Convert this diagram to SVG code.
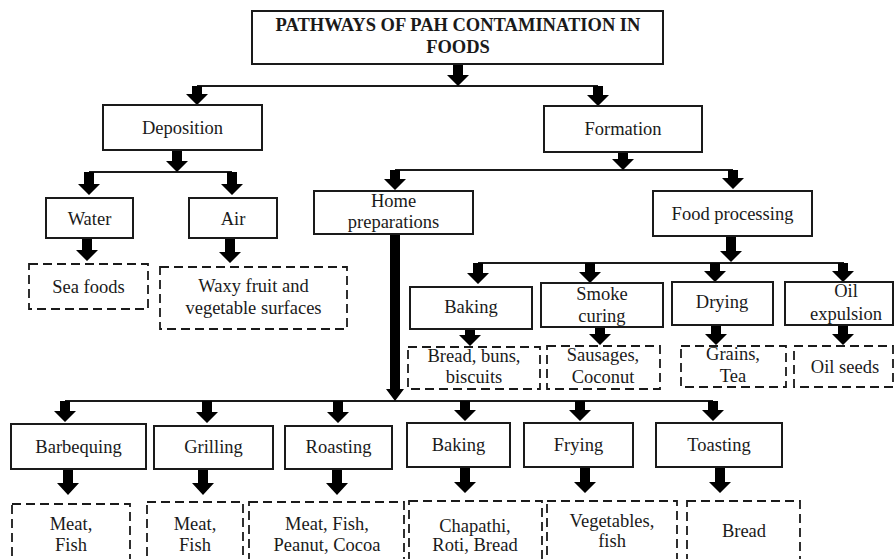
<svg xmlns="http://www.w3.org/2000/svg" width="896" height="559" viewBox="0 0 896 559" font-family="Liberation Serif, DejaVu Serif, serif">
<style>
.b{fill:#fff;stroke:#1a1a1a;stroke-width:2}
.d{fill:#fff;stroke:#1a1a1a;stroke-width:1.8;stroke-dasharray:9 5}
text{font-size:18.5px;fill:#1a1a1a;text-anchor:middle}
.t{font-weight:bold;font-size:18.5px}
.ln{stroke:#1a1a1a;stroke-width:2.2;fill:none}
.ar{fill:#000}
</style>
<rect width="896" height="559" fill="#fff"/>
<g id="connectors">
<path class="ln" d="M197,86H598M89,172H232M395,170H733M478,263H844M65,401H713"/>
<path class="ar" d="M453,64H463V75H469L458,86L447,75H453Z"/>
<path class="ar" d="M192,86H202V94H208L197,105L186,94H192Z"/>
<path class="ar" d="M593,86H603V95H609L598,106L587,95H593Z"/>
<path class="ar" d="M172,150H182V161H188L177,172L166,161H172Z"/>
<path class="ar" d="M84,172H94V184H100L89,195L78,184H84Z"/>
<path class="ar" d="M227,172H237V184H243L232,195L221,184H227Z"/>
<path class="ar" d="M82,238H92V250H98L87,261L76,250H82Z"/>
<path class="ar" d="M225,238H235V252H241L230,263L219,252H225Z"/>
<path class="ar" d="M618,152H628V159H634L623,170L612,159H618Z"/>
<path class="ar" d="M390,170H400V179H406L395,190L384,179H390Z"/>
<path class="ar" d="M728,170H738V178H744L733,189L722,178H728Z"/>
<path class="ar" d="M726,236H736V251H742L731,262L720,251H726Z"/>
<path class="ar" d="M473,263H483V273H489L478,284L467,273H473Z"/>
<path class="ar" d="M585,263H595V272H601L590,283L579,272H585Z"/>
<path class="ar" d="M710,263H720V271H726L715,282L704,271H710Z"/>
<path class="ar" d="M838,263H848V271H854L843,282L832,271H838Z"/>
<path class="ar" d="M465,329H475V335H481L470,346L459,335H465Z"/>
<path class="ar" d="M595,327H605V334H611L600,345L589,334H595Z"/>
<path class="ar" d="M711,325H721V334H727L716,345L705,334H711Z"/>
<path class="ar" d="M838,325H848V334H854L843,345L832,334H838Z"/>
<path class="ar" d="M390,234H400V389H404L395,401L386,389H390Z"/>
<path class="ar" d="M60,401H70V411H76L65,422L54,411H60Z"/>
<path class="ar" d="M202,401H212V412H218L207,423L196,412H202Z"/>
<path class="ar" d="M333,401H343V412H349L338,423L327,412H333Z"/>
<path class="ar" d="M460,401H470V410H476L465,421L454,410H460Z"/>
<path class="ar" d="M575,401H585V410H591L580,421L569,410H575Z"/>
<path class="ar" d="M708,401H718V410H724L713,421L702,410H708Z"/>
<path class="ar" d="M63,469H73V483H79L68,495L57,483H63Z"/>
<path class="ar" d="M198,469H208V483H214L203,495L192,483H198Z"/>
<path class="ar" d="M332,469H342V483H348L337,495L326,483H332Z"/>
<path class="ar" d="M460,467H470V482H476L465,493L454,482H460Z"/>
<path class="ar" d="M580,467H590V482H596L585,493L574,482H580Z"/>
<path class="ar" d="M715,467H725V482H731L720,493L709,482H715Z"/>
</g>
<g id="title"><rect class="b" x="252" y="11" width="411" height="53"/><text class="t" x="458" y="31">PATHWAYS OF PAH CONTAMINATION IN</text><text class="t" x="458" y="53">FOODS</text></g>
<g id="deposition"><rect class="b" x="103" y="105" width="159" height="45"/><text x="182.5" y="134">Deposition</text></g>
<g id="formation"><rect class="b" x="544" y="106" width="158" height="46"/><text x="623" y="135">Formation</text></g>
<g id="water"><rect class="b" x="46" y="198" width="87" height="40"/><text x="89.5" y="225">Water</text></g>
<g id="air"><rect class="b" x="189" y="198" width="88" height="40"/><text x="233" y="225">Air</text></g>
<g id="seafoods"><rect class="d" x="29" y="264" width="119" height="45"/><text x="88.5" y="293">Sea foods</text></g>
<g id="waxy"><rect class="d" x="160" y="267" width="187" height="62"/><text x="253.5" y="292">Waxy fruit and</text><text x="253.5" y="314">vegetable surfaces</text></g>
<g id="home"><rect class="b" x="314" y="191" width="159" height="43"/><text x="393.5" y="207">Home</text><text x="393.5" y="228">preparations</text></g>
<g id="foodproc"><rect class="b" x="653" y="191" width="159" height="45"/><text x="732.5" y="220">Food processing</text></g>
<g id="fp-baking"><rect class="b" x="410" y="287" width="122" height="42"/><text x="471" y="313">Baking</text></g>
<g id="smoke"><rect class="b" x="541" y="283" width="122" height="44"/><text x="602" y="300">Smoke</text><text x="602" y="322">curing</text></g>
<g id="drying"><rect class="b" x="672" y="282" width="101" height="43"/><text x="722" y="308">Drying</text></g>
<g id="oil"><rect class="b" x="785" y="282" width="108" height="43"/><text x="846" y="297">Oil</text><text x="846" y="320">expulsion</text></g>
<g id="bread-buns"><rect class="d" x="408" y="347" width="132" height="42"/><text x="474" y="362">Bread, buns,</text><text x="474" y="383">biscuits</text></g>
<g id="sausages"><rect class="d" x="547" y="346" width="113" height="43"/><text x="603" y="361">Sausages,</text><text x="603" y="383">Coconut</text></g>
<g id="grains"><rect class="d" x="681" y="346" width="105" height="41"/><text x="733" y="360">Grains,</text><text x="733" y="382">Tea</text></g>
<g id="oilseeds"><rect class="d" x="794" y="346" width="99" height="41"/><text x="845" y="373">Oil seeds</text></g>
<g id="barbequing"><rect class="b" x="11" y="424" width="135" height="45"/><text x="78.5" y="453">Barbequing</text></g>
<g id="grilling"><rect class="b" x="154" y="426" width="119" height="43"/><text x="213.5" y="453">Grilling</text></g>
<g id="roasting"><rect class="b" x="285" y="426" width="107" height="43"/><text x="338.5" y="453">Roasting</text></g>
<g id="hp-baking"><rect class="b" x="407" y="423" width="103" height="44"/><text x="458.5" y="451">Baking</text></g>
<g id="frying"><rect class="b" x="524" y="423" width="109" height="44"/><text x="578.5" y="451">Frying</text></g>
<g id="toasting"><rect class="b" x="656" y="423" width="126" height="44"/><text x="719" y="451">Toasting</text></g>
<g id="r-barbequing"><rect class="d" x="12" y="504" width="118" height="62"/><text x="71" y="530">Meat,</text><text x="71" y="551">Fish</text></g>
<g id="r-grilling"><rect class="d" x="147" y="502" width="96" height="64"/><text x="195" y="530">Meat,</text><text x="195" y="551">Fish</text></g>
<g id="r-roasting"><rect class="d" x="249" y="502" width="155" height="64"/><text x="327" y="530">Meat, Fish,</text><text x="327" y="551">Peanut, Cocoa</text></g>
<g id="r-baking"><rect class="d" x="409" y="501" width="133" height="65"/><text x="475" y="532">Chapathi,</text><text x="475" y="551">Roti, Bread</text></g>
<g id="r-frying"><rect class="d" x="547" y="501" width="130" height="65"/><text x="612" y="527">Vegetables,</text><text x="612" y="547">fish</text></g>
<g id="r-toasting"><rect class="d" x="687" y="501" width="113" height="65"/><text x="744" y="537">Bread</text></g>
</svg>
